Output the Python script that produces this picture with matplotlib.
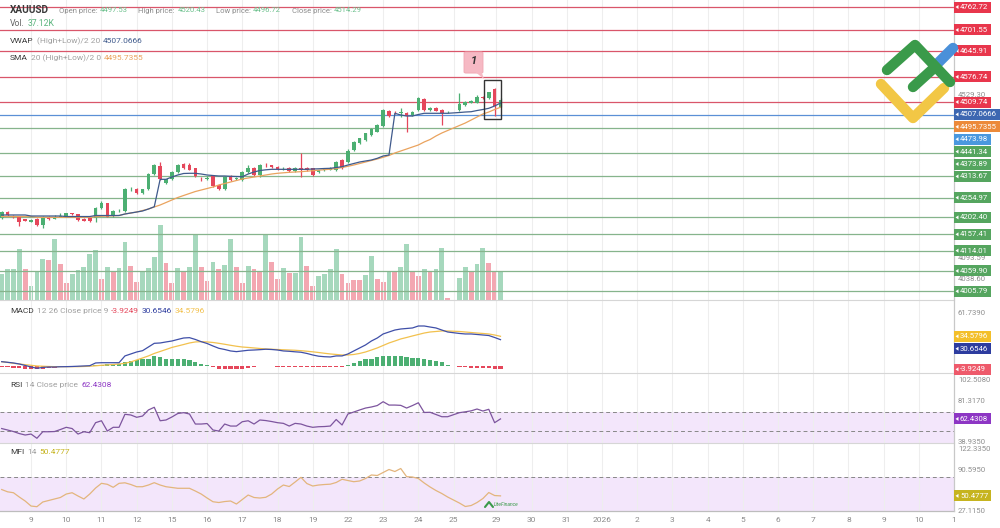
import matplotlib
matplotlib.use('Agg')
import matplotlib.pyplot as plt
import numpy as np
from matplotlib.patches import Rectangle, Polygon, FancyBboxPatch
from matplotlib.lines import Line2D

nan = np.nan
FONT = ['Roboto', 'DejaVu Sans']
plt.rcParams['font.family'] = FONT

# ---------------- data ----------------
opens = [4200.9, 4216.8, 4206.2, 4202.2, 4196.9, 4191.5, 4199.5, 4180.9, 4200.9, 4199.5,
         4203.5, 4207.5, 4214.2, 4210.2, 4198.2, 4200.9, 4200.9, 4226.2, 4239.5, 4206.2,
         4219.5, 4219.5, 4276.8, 4279.4, 4267.4, 4276.8, 4318.0, 4339.3, 4294.1, 4303.4,
         4323.4, 4344.7, 4343.3, 4332.7, 4306.0, 4304.7, 4311.4, 4288.7, 4278.1, 4311.4,
         4304.7, 4302.0, 4323.4, 4335.3, 4315.4, 4342.0, 4340.7, 4336.7, 4332.7, 4335.3,
         4326.0, 4335.3, 4335.3, 4332.7, 4323.4, 4328.7, 4330.0, 4328.7, 4355.3, 4351.3,
         4382.0, 4400.6, 4407.3, 4421.9, 4431.2, 4445.9, 4485.8, 4481.8, 4480.5, 4480.5,
         4475.2, 4488.5, 4517.8, 4488.5, 4495.1, 4488.5, 4483.1, nan, 4488.5, 4501.8,
         4508.4, 4508.4, 4524.4, 4519.1, 4543.1, 4497.53]
highs = [4219.5, 4219.5, 4208.9, 4203.5, 4198.2, 4196.9, 4200.9, 4206.2, 4206.2, 4208.9,
         4214.2, 4214.2, 4215.5, 4211.5, 4200.9, 4203.5, 4230.2, 4246.1, 4240.8, 4222.2,
         4224.8, 4280.8, 4282.1, 4280.8, 4278.1, 4320.7, 4344.7, 4350.0, 4304.7, 4326.0,
         4344.7, 4347.3, 4346.0, 4334.0, 4310.0, 4311.4, 4312.7, 4290.1, 4312.7, 4315.4,
         4310.0, 4326.0, 4342.0, 4336.7, 4344.7, 4347.3, 4342.0, 4339.3, 4336.7, 4336.7,
         4336.7, 4374.0, 4336.7, 4334.0, 4330.0, 4334.0, 4336.7, 4352.7, 4358.0, 4384.6,
         4405.9, 4413.9, 4427.2, 4440.5, 4451.2, 4491.1, 4488.5, 4484.5, 4493.8, 4483.1,
         4485.8, 4523.1, 4520.4, 4496.5, 4496.5, 4491.1, 4485.8, nan, 4533.7, 4512.4,
         4515.1, 4527.1, 4525.8, 4536.4, 4547.1, 4520.43]
lows = [4198.2, 4206.2, 4200.9, 4179.6, 4192.9, 4190.2, 4179.6, 4174.2, 4195.5, 4198.2,
        4202.2, 4206.2, 4208.9, 4192.9, 4192.9, 4190.2, 4190.2, 4224.8, 4203.5, 4203.5,
        4216.8, 4216.8, 4272.8, 4264.8, 4264.8, 4275.4, 4315.4, 4302.0, 4291.4, 4302.0,
        4322.0, 4331.4, 4328.7, 4310.0, 4300.7, 4302.0, 4283.4, 4275.4, 4275.4, 4299.4,
        4302.0, 4299.4, 4320.7, 4312.7, 4310.0, 4336.7, 4334.0, 4328.7, 4328.7, 4323.4,
        4323.4, 4310.0, 4326.0, 4312.7, 4320.7, 4326.0, 4328.7, 4326.0, 4331.4, 4347.3,
        4379.3, 4397.9, 4405.9, 4419.2, 4429.9, 4443.2, 4469.8, 4477.8, 4469.8, 4431.2,
        4472.5, 4485.8, 4485.8, 4485.8, 4485.8, 4448.5, 4480.5, nan, 4485.8, 4499.1,
        4505.8, 4507.1, 4517.8, 4517.8, 4472.5, 4496.72]
closes = [4216.8, 4208.9, 4202.2, 4191.5, 4194.2, 4195.5, 4180.9, 4202.2, 4199.5, 4203.5,
          4206.2, 4212.9, 4210.2, 4195.5, 4194.2, 4194.2, 4226.2, 4239.5, 4204.8, 4219.5,
          4220.8, 4276.8, 4278.1, 4267.4, 4276.8, 4318.0, 4342.0, 4304.7, 4303.4, 4323.4,
          4342.0, 4332.7, 4330.0, 4312.7, 4304.7, 4308.7, 4284.8, 4278.1, 4310.0, 4302.0,
          4307.4, 4323.4, 4335.3, 4315.4, 4342.0, 4340.7, 4336.7, 4331.4, 4334.0, 4324.7,
          4335.3, 4330.0, 4328.7, 4315.4, 4328.7, 4331.4, 4332.7, 4350.0, 4334.0, 4380.6,
          4403.3, 4412.6, 4425.9, 4439.2, 4448.5, 4488.5, 4472.5, 4480.5, 4483.1, 4473.8,
          4483.1, 4519.1, 4488.5, 4495.1, 4487.1, 4480.5, 4483.1, nan, 4504.4, 4509.8,
          4512.4, 4524.4, 4520.4, 4535.1, 4497.8, 4514.29]
volume_k = [33.3, 39.3, 39.3, 64.9, 39.3, 17.9, 37.1, 52.9, 51.2, 78.5,
            45.7, 21.3, 32.9, 38.4, 42.7, 58.9, 63.6, 27.3, 42.2, 36.3,
            40.5, 74.7, 43.5, 23.0, 35.4, 41.4, 54.6, 96.0, 47.4, 22.2,
            40.5, 37.1, 41.8, 84.1, 41.8, 24.3, 49.1, 39.7, 44.4, 78.5,
            42.7, 22.2, 44.0, 39.3, 36.3, 84.1, 48.6, 26.9, 41.4, 34.6,
            34.6, 80.6, 44.0, 18.3, 30.3, 33.7, 39.3, 64.9, 33.3, 21.3,
            25.6, 25.2, 32.0, 56.3, 26.9, 23.5, 36.3, 36.3, 41.8, 71.7,
            36.7, 30.7, 39.3, 36.3, 39.3, 67.0, 3.0, nan, 28.6, 42.7,
            36.3, 46.1, 67.0, 47.8, 36.3, 37.12]
vol_up = [1, 1, 1, 1, 0, 1, 1, 1, 0, 1,
          0, 0, 1, 1, 1, 1, 1, 0, 1, 0,
          1, 1, 0, 0, 1, 1, 1, 1, 0, 0,
          1, 0, 1, 1, 0, 0, 1, 0, 1, 1,
          0, 0, 1, 0, 0, 1, 0, 0, 1, 0,
          1, 1, 0, 0, 1, 1, 1, 1, 0, 0,
          0, 0, 1, 1, 0, 0, 1, 0, 1, 1,
          0, 0, 1, 0, 1, 1, 0, 0, 1, 1,
          0, 1, 1, 0, 0, 1]
vwap = [4208.9, 4208.9, 4208.9, 4208.9, 4208.9, 4206.2, 4206.2, 4206.2, 4206.2, 4206.2,
        4206.2, 4204.8, 4204.8, 4204.8, 4204.8, 4204.8, 4207.5, 4207.5, 4207.5, 4207.5,
        4207.5, 4211.5, 4214.2, 4216.8, 4219.5, 4224.8, 4230.9, 4303.9, 4303.9, 4310.0,
        4315.4, 4319.4, 4319.9, 4319.9, 4318.0, 4315.4, 4314.0, 4312.7, 4312.7, 4311.9,
        4311.4, 4310.8, 4318.0, 4323.4, 4327.3, 4329.2, 4330.5, 4330.5, 4330.5, 4330.5,
        4330.5, 4330.5, 4330.5, 4331.4, 4331.9, 4332.7, 4333.2, 4335.3, 4337.5, 4342.0,
        4346.0, 4350.0, 4352.7, 4355.3, 4359.8, 4366.0, 4368.6, 4479.7, 4475.2, 4472.5,
        4472.5, 4476.5, 4479.7, 4479.7, 4479.7, 4479.7, 4479.7, nan, 4481.8, 4483.1,
        4483.9, 4487.1, 4489.8, 4493.0, 4499.1, 4507.0666]
sma = [4204.8, 4204.8, 4204.8, 4204.8, 4204.8, 4204.8, 4202.7, 4202.7, 4202.7, 4202.7,
       4202.7, 4202.7, 4202.7, 4202.7, 4202.7, 4202.7, 4204.1, 4205.4, 4206.2, 4206.7,
       4207.5, 4211.5, 4214.2, 4216.8, 4220.8, 4224.8, 4230.2, 4235.5, 4242.1, 4248.8,
       4255.4, 4260.8, 4266.1, 4271.4, 4275.4, 4279.4, 4283.4, 4288.7, 4292.7, 4296.7,
       4300.7, 4304.7, 4307.4, 4310.0, 4312.7, 4315.4, 4318.0, 4319.9, 4321.2, 4322.6,
       4323.4, 4324.2, 4325.5, 4326.8, 4328.2, 4329.5, 4330.8, 4332.7, 4335.3, 4338.5,
       4342.0, 4346.0, 4350.0, 4354.0, 4358.0, 4362.5, 4367.3, 4374.0, 4379.3, 4384.6,
       4390.0, 4395.3, 4403.3, 4409.9, 4419.2, 4427.2, 4433.9, nan, 4447.2, 4453.8,
       4461.8, 4469.8, 4477.8, 4483.1, 4489.8, 4495.7355]
macd = [5.0, 4.3, 3.5, 2.3, 0.6, -1.2, -2.7, -1.7, -1.2, -1.2,
        -0.9, -0.8, -0.6, -0.3, 0.0, 0.3, 3.5, 3.8, 3.8, 3.8,
        3.8, 11.7, 14.0, 16.3, 17.8, 22.1, 26.4, 26.8, 28.0, 29.1,
        30.9, 32.6, 33.0, 30.9, 28.3, 26.2, 23.3, 20.6, 19.2, 17.5,
        16.7, 17.5, 18.3, 18.6, 19.0, 19.5, 19.2, 18.6, 17.5, 17.1,
        16.5, 16.0, 14.6, 12.8, 11.4, 10.8, 10.5, 11.7, 11.7, 14.0,
        17.5, 21.0, 24.5, 29.1, 32.6, 37.3, 39.6, 41.9, 43.1, 43.7,
        44.3, 46.6, 46.6, 45.4, 44.3, 41.9, 39.6, nan, 37.9, 37.3,
        37.3, 36.7, 36.1, 35.5, 33.2, 30.6546]
signal = [5.0, 4.1, 3.1, 2.3, 1.5, 0.8, 0.0, -0.3, -0.6, -0.8,
          -0.8, -0.8, -0.8, -0.8, -0.6, -0.3, 0.2, 0.8, 1.2, 1.7,
          2.3, 3.1, 4.7, 7.0, 9.3, 11.7, 14.6, 16.9, 19.2, 21.6,
          23.3, 25.0, 26.8, 28.0, 28.3, 28.0, 27.4, 26.4, 25.3, 24.1,
          23.0, 22.1, 21.6, 21.0, 20.4, 19.8, 19.5, 19.2, 18.9, 18.6,
          18.3, 17.8, 17.2, 16.5, 15.7, 14.8, 14.0, 13.4, 12.8, 12.8,
          13.4, 14.6, 16.3, 18.6, 21.0, 23.9, 26.8, 29.1, 31.5, 33.2,
          35.0, 36.7, 38.4, 39.6, 40.2, 40.8, 40.8, nan, 40.2, 39.6,
          39.0, 38.4, 37.9, 37.3, 36.1, 34.5796]
hist = [-1.2, -1.7, -2.3, -2.9, -3.5, -3.5, -4.1, -3.5, -2.9, -2.3,
        -1.7, -1.7, -1.2, -1.2, -0.6, -0.6, 1.2, 1.7, 2.3, 2.3,
        2.3, 4.7, 5.8, 7.0, 7.6, 8.7, 11.1, 9.9, 8.7, 8.2,
        8.2, 8.2, 7.0, 5.2, 2.3, 0.9, -1.7, -3.5, -4.1, -4.1,
        -4.1, -3.5, -2.3, -1.2, -0.3, -0.2, -0.2, -1.2, -1.4, -1.4,
        -1.5, -1.5, -1.7, -1.7, -1.7, -1.7, -1.7, -1.7, -1.2, 1.2,
        3.5, 5.8, 7.6, 8.7, 9.9, 11.1, 11.7, 11.7, 11.1, 10.5,
        9.3, 9.3, 8.2, 7.0, 5.8, 4.1, 1.2, nan, -1.2, -1.7,
        -2.3, -2.3, -2.3, -2.9, -3.5, -3.9249]
rsi = [52.4, 50.9, 49.3, 47.2, 45.7, 46.7, 42.3, 49.1, 49.1, 49.3,
       51.4, 53.7, 52.4, 46.7, 49.1, 48.1, 58.5, 60.5, 49.8, 53.7,
       53.7, 67.2, 66.5, 64.1, 65.4, 71.7, 74.5, 60.5, 61.3, 64.4,
       68.0, 68.9, 67.5, 57.1, 57.1, 57.6, 50.9, 49.8, 57.1, 55.0,
       55.0, 59.5, 60.5, 57.1, 61.3, 60.7, 59.7, 58.5, 57.8, 55.0,
       57.8, 57.1, 55.0, 53.7, 54.3, 54.5, 55.0, 61.8, 56.1, 67.5,
       69.6, 71.7, 73.7, 74.8, 76.3, 80.3, 76.8, 76.8, 76.5, 73.7,
       76.3, 79.2, 69.1, 69.3, 67.0, 64.7, 64.7, nan, 68.9, 69.8,
       70.8, 72.7, 70.6, 72.4, 58.5, 62.4308]
mfi = [60.2, 56.7, 55.3, 48.7, 42.6, 34.9, 33.9, 41.1, 43.4, 45.7,
       48.0, 53.3, 55.3, 50.3, 45.7, 53.3, 62.5, 69.7, 68.2, 63.6,
       69.7, 70.5, 67.9, 64.5, 64.5, 67.1, 70.7, 67.1, 64.5, 63.3,
       62.1, 62.1, 62.1, 57.9, 53.3, 47.2, 41.5, 40.3, 41.8, 42.6,
       38.0, 44.9, 51.8, 48.0, 47.2, 48.3, 53.3, 61.0, 67.1, 64.8,
       71.7, 78.9, 69.4, 65.6, 67.1, 67.9, 68.4, 71.0, 75.9, 74.0,
       72.2, 73.3, 77.1, 82.5, 81.7, 86.3, 90.9, 87.8, 92.4, 79.9,
       79.4, 77.1, 70.2, 64.1, 58.7, 54.1, 48.7, nan, 39.5, 34.2,
       35.7, 40.3, 46.4, 55.6, 51.0, 50.4777]

level_values = [4762.72, 4701.55, 4645.91, 4576.74, 4509.74, 4473.98,
                4441.34, 4373.89, 4313.67, 4254.97, 4202.40, 4157.41,
                4114.01, 4059.90, 4005.79]
level_kinds = ['r', 'r', 'r', 'r', 'r', 'b', 'g', 'g', 'g', 'g', 'g', 'g', 'g', 'g', 'g']
price_grey_ticks = [4529.30, 4093.59, 4038.60]
macd_ticks = [61.7390]
rsi_ticks = [102.5080, 81.3170, 38.9350]
mfi_ticks = [122.3350, 90.5950, 27.1150]

day_labels = ['9', '10', '11', '12', '15', '16', '17', '18', '19', '22', '23', '24', '25',
              '29', '30', '31', '2026', '2', '3', '4', '5', '6', '7', '8', '9', '10', '1']
day_pos = [5, 11, 17, 23, 29, 35, 41, 47, 53, 59, 65, 71, 77,
           84.3, 90.3, 96.3, 102.3, 108.3, 114.3, 120.3, 126.3, 132.3, 138.3, 144.3,
           150.3, 156.3, 162.25]

box_range = (82.16, 85.06, 4464.5, 4568.4)

# ---------------- layout ----------------
W, H = 1000, 528
RIGHT = 954
XL = (-0.29, 162.28)
PRICE_LIM = (3982.5, 4781.4)
VOL_LIM = (0, 384)
MACD_LIM = (-8.2, 76.9)
RSI_LIM = (37.4, 110.1)
MFI_LIM = (27.3, 131.5)

fig = plt.figure(figsize=(W / 100, H / 100), dpi=100)
fig.patch.set_facecolor('white')


def rect(top, bot):
    return [0, 1 - bot / H, RIGHT / W, (bot - top) / H]


P = (0, 300)
M = (300, 373)
R = (373, 443)
F = (443, 511)

ax_vol = fig.add_axes(rect(*P), zorder=0)
ax = fig.add_axes(rect(*P), zorder=1)
ax.set_facecolor('none')
axm = fig.add_axes(rect(*M))
axr = fig.add_axes(rect(*R))
axf = fig.add_axes(rect(*F))

x = np.arange(len(closes))
O = np.array(opens); Hh = np.array(highs); L = np.array(lows); C = np.array(closes)

GRID = '#eeeeee'
for a in (ax_vol, ax, axm, axr, axf):
    a.set_xlim(*XL)
    for s in a.spines.values():
        s.set_visible(False)
    a.set_yticks([])
    a.set_xticks(day_pos)
    a.tick_params(axis='x', length=0, labelbottom=False)
    a.grid(axis='x', color=GRID, lw=0.8)
ax.grid(False)
axf.tick_params(axis='x', labelbottom=True, labelsize=6, labelcolor='#8a8a8a', pad=4)
axf.set_xticklabels(day_labels)


def line(a, series, **kw):
    s = np.array(series, dtype=float)
    m = ~np.isnan(s)
    a.plot(x[m], s[m], **kw)


# volume
ax_vol.set_ylim(*VOL_LIM)
vcol = ['#a6d8bd' if u else '#f3a7b1' for u in vol_up]
ax_vol.bar(x, volume_k, width=0.82, color=vcol, linewidth=0)

# price
ax.set_ylim(*PRICE_LIM)
lvl_col = {'r': '#d9566a', 'b': '#5b90d6', 'g': '#86b48c'}
for v, k in zip(level_values, level_kinds):
    ax.axhline(v, color=lvl_col[k], lw=0.9, zorder=1)

GREEN = '#4caf72'
RED = '#e5475b'
cc = [GREEN if c >= o else RED for o, c in zip(opens, closes)]
ax.vlines(x, L, Hh, colors=cc, lw=0.9, zorder=3)
body_lo = np.minimum(O, C)
body_h = np.maximum(np.abs(C - O), 0.9)
ax.bar(x, body_h, bottom=body_lo, width=0.62, color=cc, linewidth=0, zorder=4)

line(ax, sma, color='#eaa35e', lw=0.9, zorder=5)
line(ax, vwap, color='#3f5a8c', lw=0.9, zorder=5)

bx0, bx1, by0, by1 = box_range
ax.add_patch(Rectangle((bx0, by0), bx1 - bx0, by1 - by0, fill=False, ec='#333333', lw=1.0, zorder=6))

# MACD
axm.set_ylim(*MACD_LIM)
hc = [GREEN if h >= 0 else RED for h in hist]
axm.bar(x, hist, width=0.72, color=hc, linewidth=0, zorder=2)
line(axm, signal, color='#f2c14e', lw=0.9, zorder=3)
line(axm, macd, color='#3f4fa8', lw=0.9, zorder=3)

# RSI
axr.set_ylim(*RSI_LIM)
axr.axhspan(30, 70, color='#f3e6fb', zorder=0, lw=0)
axr.axhline(70, color='#888888', lw=0.7, ls=(0, (4, 3)))
axr.axhline(50, color='#888888', lw=0.7, ls=(0, (4, 3)))
line(axr, rsi, color='#7d559e', lw=0.9, zorder=3)

# MFI
axf.set_ylim(*MFI_LIM)
axf.axhspan(20, 80, color='#f3e6fb', zorder=0, lw=0)
axf.axhline(80, color='#888888', lw=0.7, ls=(0, (4, 3)))
line(axf, mfi, color='#e3b57d', lw=0.9, zorder=3)

# separators and right axis line
for yy in (300, 373, 443):
    fig.add_artist(Line2D([0, RIGHT / W], [1 - yy / H, 1 - yy / H], color='#d6d6d6', lw=0.8))
fig.add_artist(Line2D([0, RIGHT / W], [1 - 511 / H, 1 - 511 / H], color='#bdbdbd', lw=0.9))
fig.add_artist(Line2D([RIGHT / W, RIGHT / W], [1 - 511 / H, 1], color='#c8c8c8', lw=0.9))


def fy(py):
    return 1 - py / H


def val2px(v, lim, panel):
    lo, hi = lim
    top, bot = panel
    return top + (hi - v) / (hi - lo) * (bot - top)


LBL = 5.6


def grey_tick(py, text):
    fig.text(958 / W, fy(py), text, color='#8f8f8f', fontsize=LBL, va='center', ha='left', zorder=2)


def label_box(py, text, bg):
    w = 37 if len(text) <= 7 else 46
    fig.add_artist(Rectangle((RIGHT / W, fy(py + 5.5)), w / W, 11 / H, transform=fig.transFigure,
                             fc=bg, ec='none', zorder=5))
    fig.add_artist(Polygon([[955.5 / W, fy(py)], [958.5 / W, fy(py - 2)], [958.5 / W, fy(py + 2)]],
                           closed=True, transform=fig.transFigure, fc='white', ec='none', zorder=6))
    fig.text(960 / W, fy(py), text, color='white', fontsize=LBL, va='center', ha='left', zorder=7)


def place(items, lim, panel, gap=12.4):
    items = sorted(items, key=lambda t: -t[0])
    prev = -1e9
    for v, txt, bg in items:
        py = max(val2px(v, lim, panel), prev + gap)
        label_box(py, txt, bg)
        prev = py


box_col = {'r': '#e8364c', 'b': '#4a98de', 'g': '#55a55f'}
for v in price_grey_ticks:
    grey_tick(val2px(v, PRICE_LIM, P), f'{v:.2f}')
items = [(v, f'{v:.2f}', box_col[k]) for v, k in zip(level_values, level_kinds)]
items += [(vwap[-1], f'{vwap[-1]:.4f}', '#3d67b1'), (sma[-1], f'{sma[-1]:.4f}', '#ec8a3a')]
place(items, PRICE_LIM, P)

grey_tick(val2px(macd_ticks[0], MACD_LIM, M), f'{macd_ticks[0]:.4f}')
place([(signal[-1], f'{signal[-1]:.4f}', '#f3bf2a'), (macd[-1], f'{macd[-1]:.4f}', '#2d3c9f'),
       (hist[-1], f'{hist[-1]:.4f}', '#ee5a6b')], MACD_LIM, M)
for v in rsi_ticks:
    grey_tick(val2px(v, RSI_LIM, R), f'{v:.4f}')
place([(rsi[-1], f'{rsi[-1]:.4f}', '#8d36c4')], RSI_LIM, R)
for v in mfi_ticks:
    grey_tick(val2px(v, MFI_LIM, F), f'{v:.4f}')
place([(mfi[-1], f'{mfi[-1]:.4f}', '#c6b41f')], MFI_LIM, F)

# white mask under bottom axis for cut-off labels
fig.add_artist(Rectangle((RIGHT / W + 0.001, 0), 1, fy(513), transform=fig.transFigure, fc='white', ec='none', zorder=8))

# header texts
fig.canvas.draw()
rend = fig.canvas.get_renderer()


def rich(px, py, parts, size, gap=3.0):
    xx = px
    for txt, color, weight in parts:
        t = fig.text(xx / W, fy(py), txt, color=color, fontsize=size, fontweight=weight,
                     va='center', ha='left', zorder=9)
        xx += t.get_window_extent(renderer=rend).width + gap
    return xx


DARK = '#3a3a3a'
GREY = '#a0a0a0'
VALG = '#6cc08d'
xx = rich(10, 10, [('XAUUSD', DARK, 'bold')], 7.2, gap=10)
for lab, v in (('Open price:', opens[-1]), ('High price:', highs[-1]),
               ('Low price:', lows[-1]), ('Close price:', closes[-1])):
    xx = rich(xx, 10.5, [(lab, '#8c8c8c', 'normal'), (f'{v:.2f}', VALG, 'normal')], 5.5, gap=2.5) + 8
rich(10, 23, [('Vol.', '#666666', 'normal'), (f'{volume_k[-1]:.2f}K', '#5cb57e', 'normal')], 6.2)
rich(10, 41, [('VWAP', DARK, 'normal'), ('(High+Low)/2 20', GREY, 'normal'),
              (f'{vwap[-1]:.4f}', '#3f5a8c', 'normal')], 6.0)
rich(10, 58, [('SMA', DARK, 'normal'), ('20 (High+Low)/2 0', GREY, 'normal'),
              (f'{sma[-1]:.4f}', '#eaa35e', 'normal')], 6.0)
rich(10, 311, [('MACD', DARK, 'normal'), ('12 26 Close price 9', GREY, 'normal'),
               (f'{hist[-1]:.4f}', '#e5475b', 'normal'), (f'{macd[-1]:.4f}', '#2d3c9f', 'normal'),
               (f'{signal[-1]:.4f}', '#f2c14e', 'normal')], 6.0)
rich(10, 385, [('RSI', DARK, 'normal'), ('14 Close price', GREY, 'normal'),
               (f'{rsi[-1]:.4f}', '#8d36c4', 'normal')], 6.0)
rich(10, 452, [('MFI', DARK, 'normal'), ('14', GREY, 'normal'),
               (f'{mfi[-1]:.4f}', '#c6b41f', 'normal')], 6.0)

# callout "1"
fig.add_artist(FancyBboxPatch((466 / W, fy(72)), 15 / W, 19 / H, boxstyle='round,pad=0.002',
                              transform=fig.transFigure, fc='#f6b9c4', ec='#f0a6b3', lw=0.6, zorder=9))
fig.add_artist(Polygon([[474 / W, fy(71)], [480 / W, fy(67)], [484 / W, fy(79)]], closed=True,
                       transform=fig.transFigure, fc='#f6b9c4', ec='none', zorder=9))
fig.text(473.5 / W, fy(61.5), '1', fontsize=8, fontstyle='italic', fontweight='bold',
         color='#333333', ha='center', va='center', zorder=10)


def stroke(pts, color, lw=7.5):
    xs = [p[0] / W for p in pts]
    ys = [fy(p[1]) for p in pts]
    fig.add_artist(Line2D(xs, ys, color=color, lw=lw, solid_capstyle='round',
                          solid_joinstyle='round', zorder=10))


# logo (top right)
stroke([(881, 84), (913, 118), (944, 88)], '#f2c745')
stroke([(937, 64), (953, 48)], '#4a90d9')
stroke([(887, 70), (915, 45), (950, 82)], '#3a9a4a')
stroke([(913, 87), (934, 68)], '#3a9a4a')

# small watermark
stroke([(485, 507), (489, 502), (493, 507)], '#3a9a4a', lw=1.5)
fig.text(494 / W, fy(504), 'LiteFinance', fontsize=3.6, fontstyle='italic', color='#3a9a4a',
         ha='left', va='center', zorder=10)

fig.savefig('out.png', dpi=100, facecolor='white')
